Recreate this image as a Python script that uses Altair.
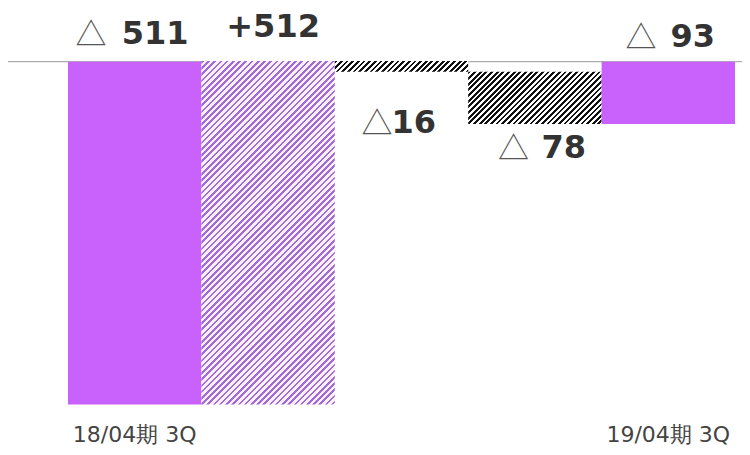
import json
import math
import altair as alt
import pandas as pd

# ---- data ----
categories = ["18/04期 3Q", "要因1", "要因2", "要因3", "19/04期 3Q"]
kinds = ["total", "delta", "delta", "delta", "total"]
values = [-511, 512, -16, -78, -93]

starts, ends = [], []
run = 0
for k, v in zip(kinds, values):
    if k == "total":
        s, e = 0, v
        run = v
    else:
        s, e = run, run + v
        run = run + v
    starts.append(s)
    ends.append(e)

signs = ["△" if v < 0 else "" for v in values]
nums = [str(abs(v)) if v < 0 else f"+{v}" for v in values]

df = pd.DataFrame({
    "idx": list(range(len(categories))),
    "cat": categories,
    "start": starts,
    "end": ends,
    "top": [max(s, e) for s, e in zip(starts, ends)],
    "bottom": [min(s, e) for s, e in zip(starts, ends)],
    "sign": signs,
    "num": nums,
})

# ---- layout / style ----
W, H = 734, 406
YDOM = [-534, 71.1]
PO, ALIGN = 0.2511, 0.8955
step = W / (len(categories) + 2 * PO)
kpx = H / (YDOM[1] - YDOM[0])

PURPLE = "#c962fd"


def hatch(w, h, period, duty, dark, light, angle=45):
    th = math.radians(angle)
    sn, cs = math.sin(th), math.cos(th)
    M = w * sn + h * cs
    lam = M / (w * w * sn * sn + h * h * cs * cs)
    a, b = lam * w * sn, lam * h * cs
    n = M / period
    stops = []
    i = 0
    while i < n:
        o0 = i / n
        o1 = min((i + duty) / n, 1.0)
        o2 = min((i + 1) / n, 1.0)
        stops += [
            alt.GradientStop(offset=o0, color=dark),
            alt.GradientStop(offset=o1, color=dark),
            alt.GradientStop(offset=o1, color=light),
            alt.GradientStop(offset=o2, color=light),
        ]
        i += 1
    return alt.LinearGradient(gradient="linear", x1=0, y1=0, x2=a, y2=b, stops=stops)


def bar_fill(i):
    h = abs(ends[i] - starts[i]) * kpx
    if i in (0, 4):
        return PURPLE
    if i == 1:
        return hatch(step, h, 4.4, 0.42, "#a46ad6", "#fcf0ff")
    return hatch(step, h, 4.0, 0.5, "#111111", "#ffffff")


shown = [c for c, k in zip(categories, kinds) if k == "total"]
label_expr = f"indexof({json.dumps(shown, ensure_ascii=False)}, datum.value) >= 0 ? datum.label : ''"

xscale = alt.Scale(domain=categories, paddingInner=0, paddingOuter=PO, align=ALIGN)
yscale = alt.Scale(domain=YDOM, nice=False, zero=False)
xaxis = alt.Axis(title=None, domain=False, ticks=False, grid=False, labelAngle=0,
                 labelFont="DejaVu Sans", labelFontSize=22, labelColor="#444444",
                 labelPadding=4, labelOverlap=False, labelExpr=label_expr)

X = alt.X("cat:N", sort=categories, scale=xscale, axis=xaxis)

base = alt.Chart(df)

layers = []
layers.append(
    alt.Chart(pd.DataFrame({"z": [0]})).mark_rule(color="#999999", strokeWidth=1).encode(
        y=alt.Y("z:Q", scale=yscale, axis=None)
    )
)
for i in range(len(categories)):
    layers.append(
        base.transform_filter(alt.datum.idx == i).mark_bar(fill=bar_fill(i), strokeWidth=0).encode(
            x=X, y=alt.Y("start:Q", scale=yscale, axis=None), y2="end:Q"
        )
    )

label_anchor = ["top", "top", "bottom", "bottom", "top"]
num_dx = [-13, 5, -10, 6.6, 2.2]
num_align = ["left", "center", "left", "left", "left"]
num_dy = [-18, -24, 61, 34, -15]
tri_dx = [-43.7, 0, -24.5, -21.4, -27.3]

for i in range(len(categories)):
    sub = base.transform_filter(alt.datum.idx == i)
    layers.append(
        sub.mark_text(align=num_align[i], baseline="alphabetic", dx=num_dx[i], dy=num_dy[i],
                      font="DejaVu Sans", fontWeight="bold", fontSize=32, color="#333333").encode(
            x=X, y=alt.Y(f"{label_anchor[i]}:Q", scale=yscale, axis=None), text="num:N"
        )
    )
    if signs[i]:
        layers.append(
            sub.mark_text(align="center", baseline="alphabetic", dx=tri_dx[i], dy=num_dy[i] + 1,
                          font="Noto Sans CJK JP", fontWeight="normal", fontSize=31,
                          color="#555555").encode(
                x=X, y=alt.Y(f"{label_anchor[i]}:Q", scale=yscale, axis=None), text="sign:N"
            )
        )

chart = alt.layer(*layers).properties(
    width=W, height=H,
    autosize=alt.AutoSizeParams(type="none"),
    padding={"left": 0, "top": 6, "right": 0, "bottom": 27},
).configure_view(stroke=None)

chart.save("out.html", embed_options={"renderer": "svg", "actions": False})
